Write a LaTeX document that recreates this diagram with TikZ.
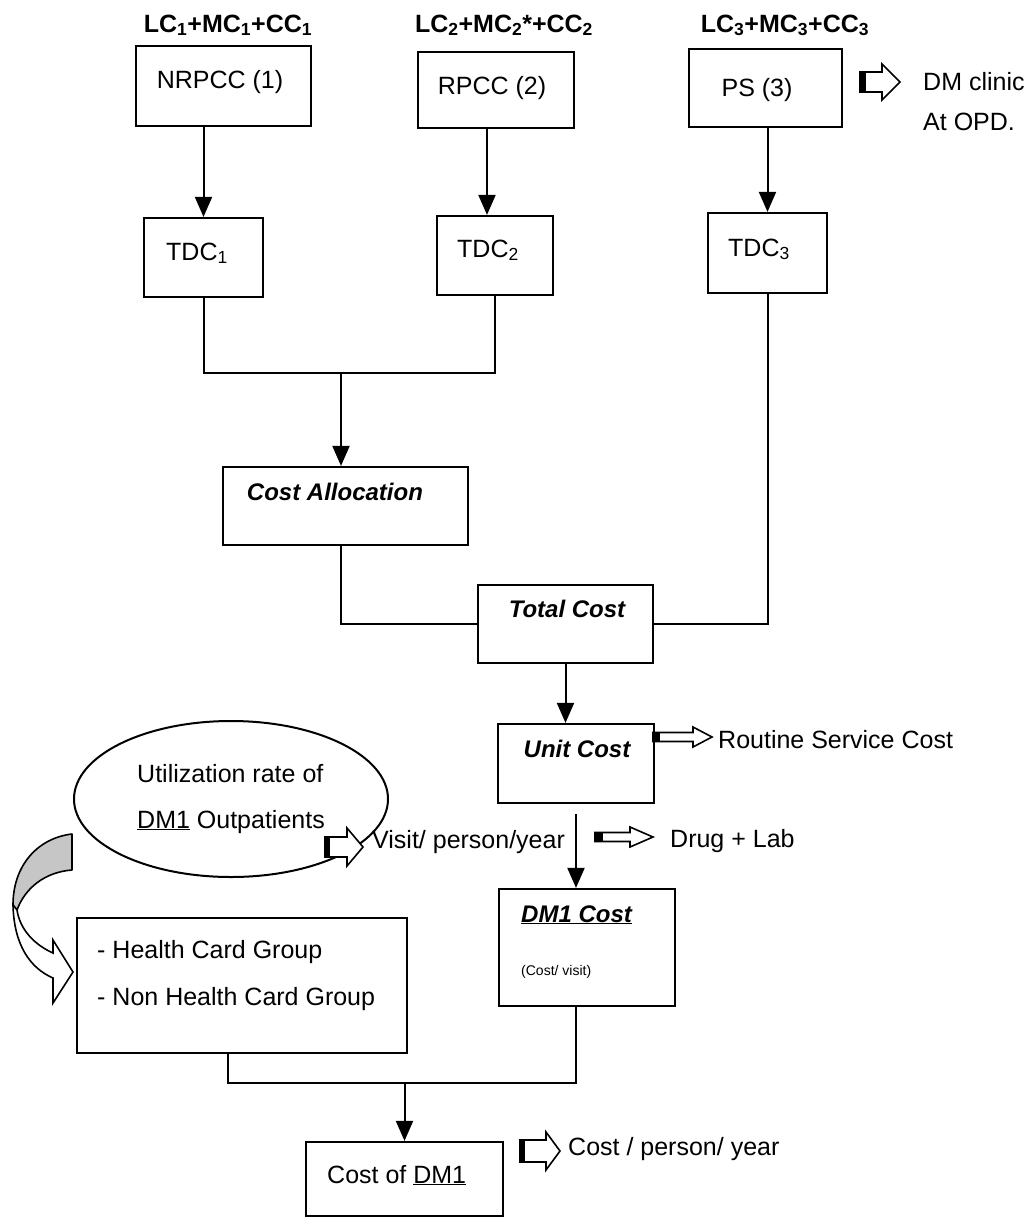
\documentclass[tikz,border=0pt]{standalone}
\usepackage{fontspec}
\setmainfont{Liberation Sans}
\usetikzlibrary{shapes.geometric,arrows.meta}
\newcommand\blockarr[7]{%
  \filldraw[fill=white, line width=1.6pt, line join=miter]
    (#1,#3-#4) -- (#2-#6,#3-#4) -- (#2-#6,#3-#5) -- (#2,#3) -- (#2-#6,#3+#5) -- (#2-#6,#3+#4) -- (#1,#3+#4) -- cycle;
  \fill (#1,#3-#4) rectangle (#1+#7,#3+#4);
}
\begin{document}
\begin{tikzpicture}[x=1pt,y=-1pt,
  box/.style={draw, line width=2.2pt, inner sep=0pt, rectangle},
  txt/.style={inner sep=0pt, font=\fontsize{25}{30}\selectfont},
  btxt/.style={inner sep=0pt, font=\fontsize{25}{30}\selectfont\bfseries},
  bitxt/.style={inner sep=0pt, font=\fontsize{24}{29}\selectfont\bfseries\itshape},
  line/.style={line width=2pt},
  arr/.style={line width=2pt, -{Triangle[length=20pt,width=17pt]}}]
\fill[white] (0,0) rectangle (1031,1219);
\useasboundingbox (0,0) rectangle (1031,1219);

% boxes
\node[box, minimum width=175, minimum height=80] (nrpcc) at (223.5,86) {};
\node[box, minimum width=156, minimum height=76] (rpcc) at (496,90) {};
\node[box, minimum width=153, minimum height=78] (ps) at (765.5,88) {};
\node[box, minimum width=119, minimum height=79] (tdc1) at (203.5,257.5) {};
\node[box, minimum width=116, minimum height=79] (tdc2) at (495,255.5) {};
\node[box, minimum width=119, minimum height=80] (tdc3) at (767.5,253) {};
\node[box, minimum width=245, minimum height=78] (alloc) at (345.5,506) {};
\node[box, minimum width=175, minimum height=78] (total) at (565.5,624) {};
\node[box, minimum width=156, minimum height=79] (unit) at (576,763.5) {};
\node[box, minimum width=176, minimum height=117] (dmcost) at (587,947.5) {};
\node[box, minimum width=330, minimum height=135] (groups) at (242,985.5) {};
\node[box, minimum width=197, minimum height=74] (costdm) at (404.5,1179) {};
\node[draw, line width=2pt, ellipse, inner sep=0pt, minimum width=314, minimum height=156] (util) at (231,799) {};

% texts
\node[btxt, anchor=base] (lc1) at (228,32) {LC\textsubscript{1}+MC\textsubscript{1}+CC\textsubscript{1}};
\node[btxt, anchor=base] (lc2) at (504,32) {LC\textsubscript{2}+MC\textsubscript{2}*+CC\textsubscript{2}};
\node[btxt, anchor=base] (lc3) at (785,32) {LC\textsubscript{3}+MC\textsubscript{3}+CC\textsubscript{3}};
\node[txt, anchor=base] (nrpcc-t) at (220,88) {NRPCC (1)};
\node[txt, anchor=base] (rpcc-t) at (492,94) {RPCC (2)};
\node[txt, anchor=base] (ps-t) at (757,96) {PS (3)};
\node[txt, anchor=base] (tdc1-t) at (197,260) {TDC\textsubscript{1}};
\node[txt, anchor=base] (tdc2-t) at (488,257) {TDC\textsubscript{2}};
\node[txt, anchor=base] (tdc3-t) at (759,256) {TDC\textsubscript{3}};
\node[bitxt, anchor=base] (alloc-t) at (335,500) {Cost Allocation};
\node[bitxt, anchor=base] (total-t) at (567,617) {Total Cost};
\node[bitxt, anchor=base] (unit-t) at (577,757) {Unit Cost};
\node[bitxt, anchor=base west] (dmcost-t) at (521,922) {\underline{DM1 Cost}};
\node[inner sep=0pt, font=\fontsize{14}{16}\selectfont, anchor=base west] (dmcost-s) at (521,975) {(Cost/ visit)};
\node[txt, anchor=base west] (grp1) at (97,958) {- Health Card Group};
\node[txt, anchor=base west] (grp2) at (97,1005) {- Non Health Card Group};
\node[txt, anchor=base west] (costdm-t) at (327,1183) {Cost of \underline{DM1}};
\node[txt, anchor=base west] (util1) at (137,782) {Utilization rate of};
\node[txt, anchor=base west] (util2) at (137,828) {\underline{DM1} Outpatients};
\node[txt, anchor=base west] (dmclinic) at (923,90) {DM clinic};
\node[txt, anchor=base west] (atopd) at (923,130) {At OPD.};
\node[txt, anchor=base west] (routine) at (718,748) {Routine Service Cost};
\node[txt, anchor=base west] (visit) at (372,848) {Visit/ person/year};
\node[txt, anchor=base west] (drug) at (670,847) {Drug + Lab};
\node[txt, anchor=base west] (cpy) at (568,1155) {Cost / person/ year};

% connectors
\draw[arr] (nrpcc.south -| tdc1.north) -- (tdc1.north);
\coordinate (a2) at ([xshift=-8pt]tdc2.north);
\draw[arr] (a2 |- rpcc.south) -- (a2);
\draw[arr] (ps.south -| tdc3.north) -- (tdc3.north);
\coordinate (j1) at (341,373);
\draw[line] (tdc1.south) |- (j1) -| (tdc2.south);
\draw[arr] (j1) -- (j1 |- alloc.north);
\draw[line] (alloc.south -| j1) |- (total.west);
\draw[line] (tdc3.south) |- (total.east);
\draw[arr] (total.south) -- (total.south |- unit.north);
\draw[arr, shorten <=10pt] (unit.south) -- (unit.south |- dmcost.north);
\coordinate (j2) at (404.5,1083);
\coordinate (g1) at ([xshift=-14pt]groups.south);
\draw[line] (unit.south |- dmcost.south) |- (j2) -| (g1);
\draw[arr] (j2) -- (costdm.north);

% block arrows
\blockarr{860}{900}{82}{10}{18}{18}{6}
\blockarr{653}{712}{737}{4.5}{10}{19}{7}
\blockarr{325}{363}{847}{10}{19}{16}{5}
\blockarr{595}{653}{837}{4.5}{10}{23}{8}
\blockarr{520}{560}{1151}{11}{19}{14}{5}

% curved arrow
\filldraw[fill=gray!45, line width=1.6pt, line join=round]
  (72,834) .. controls (38,838) and (13,865) .. (13,905)
  -- (17,910) .. controls (25,888) and (45,872) .. (72,870) -- cycle;
\filldraw[fill=white, line width=1.6pt, line join=miter]
  (13,905) .. controls (14,945) and (30,968) .. (53,978)
  -- (53,1003) -- (73,972) -- (53,940) -- (53,953)
  .. controls (35,945) and (20,930) .. (17,910) -- cycle;
\end{tikzpicture}
\end{document}
